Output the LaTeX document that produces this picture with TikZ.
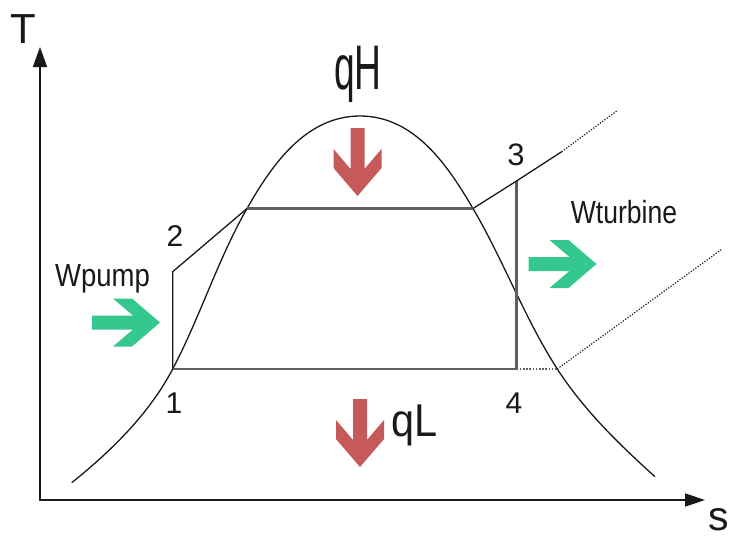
\documentclass[tikz,border=0pt]{standalone}
\usepackage{fontspec}
\setmainfont{Liberation Sans}
\usepackage{graphicx}
\usetikzlibrary{arrows.meta}
\definecolor{qred}{RGB}{198,90,90}
\definecolor{wgreen}{RGB}{52,200,143}
\definecolor{cyc}{RGB}{95,95,95}
\definecolor{ink}{RGB}{25,25,25}
\tikzset{
  thinline/.style={draw=ink, line width=1.3pt},
  cycline/.style={draw=cyc, line width=2.2pt},
  dotline/.style={draw=ink, line width=1.2pt, dash pattern=on 1.2pt off 1.6pt},
  dotcyc/.style={draw=cyc, line width=2pt, dash pattern=on 1.6pt off 1.6pt},
  axisline/.style={draw=ink, line width=1.5pt},
  lbl/.style={anchor=base, inner sep=0pt, text=ink},
  fatarrow/.pic={\path[pic actions] (0,0) -- (-28,24) -- (-47,24) -- (-27,7) -- (-68,7) -- (-68,-7) -- (-27,-7) -- (-47,-24) -- (-28,-24) -- cycle;}
}
\begin{document}
\begin{tikzpicture}[x=1pt, y=-1pt]
\useasboundingbox (0,0) rectangle (739,536);
% axes
\coordinate (O) at (40,500);
\coordinate (Ttop) at (40,47);
\coordinate (Send) at (705,500);
\draw[axisline, {Triangle[length=20pt,width=14pt]}-{Triangle[length=20pt,width=13pt]}] (Ttop) -- (O) -- (Send);
\node[lbl, font=\fontsize{42}{42}\selectfont] (Tlab) at (23,43) {T};
\node[lbl, font=\fontsize{41}{41}\selectfont] (slab) at (719,530) {s};
% cycle points
\coordinate (p1) at (172.7,369);
\coordinate (p2) at (172.7,271.7);
\coordinate (p2s) at (247,208.5);
\coordinate (p3s) at (473,208.5);
\coordinate (p3) at (516.5,181);
\coordinate (p4) at (516.5,369);
\coordinate (p4s) at (557.3,369);
\coordinate (e1) at (561.7,151.7);
\coordinate (e2) at (618,110);
\coordinate (e3) at (721.7,249.3);
\coordinate (dl) at (71.7,482.7);
\coordinate (dtop) at (360,116);
\coordinate (dr) at (655,476.7);
% dome
\draw[thinline] (dl) .. controls (111.3,451) and (149.1,413.9) .. (p1)
  .. controls (200.2,316.8) and (217.7,259.7) .. (p2s)
  .. controls (271.2,166.2) and (305,116) .. (dtop)
  .. controls (415,116) and (448.3,166.5) .. (p3s)
  .. controls (503.6,260.6) and (524.6,318.3) .. (p4s)
  .. controls (583.6,409.7) and (619,444.3) .. (dr);
% cycle
\draw[cycline] (p2s) -- (p3s);
\draw[cycline] (p3) -- (p4) -- (p1);
\draw[thinline] (p1) -- (p2) -- (p2s);
\draw[thinline] (p3s) -- (p3) -- (e1);
\draw[dotline] (e1) -- (e2);
\draw[dotcyc] (p4) -- (p4s);
\draw[dotline] (p4s) -- (e3);
% arrows
\pic[fill=qred, rotate=-90] (qHarrow) at (357.5,196) {fatarrow};
\pic[fill=qred, rotate=-90] (qLarrow) at (360,467) {fatarrow};
\pic[fill=wgreen] (Wparrow) at (160,322.5) {fatarrow};
\pic[fill=wgreen] (Wtarrow) at (596.5,264) {fatarrow};
% labels
\node[lbl, font=\fontsize{63}{63}\selectfont] (qH) at (358,89) {\scalebox{0.59}[1]{qH}};
\node[lbl, font=\fontsize{46}{46}\selectfont] (qL) at (414.5,436.7) {\scalebox{0.9}[1]{qL}};
\node[lbl, font=\fontsize{30}{30}\selectfont] (l1) at (174,413) {1};
\node[lbl, font=\fontsize{30}{30}\selectfont] (l2) at (175,246.7) {2};
\node[lbl, font=\fontsize{31}{31}\selectfont] (l3) at (516,165) {3};
\node[lbl, font=\fontsize{30}{30}\selectfont] (l4) at (514,413) {4};
\node[lbl, font=\fontsize{32}{32}\selectfont] (Wpump) at (102.5,286.7) {\scalebox{0.86}[1]{Wpump}};
\node[lbl, font=\fontsize{32}{32}\selectfont] (Wturb) at (624,223.3) {\scalebox{0.83}[1]{Wturbine}};
\end{tikzpicture}
\end{document}
